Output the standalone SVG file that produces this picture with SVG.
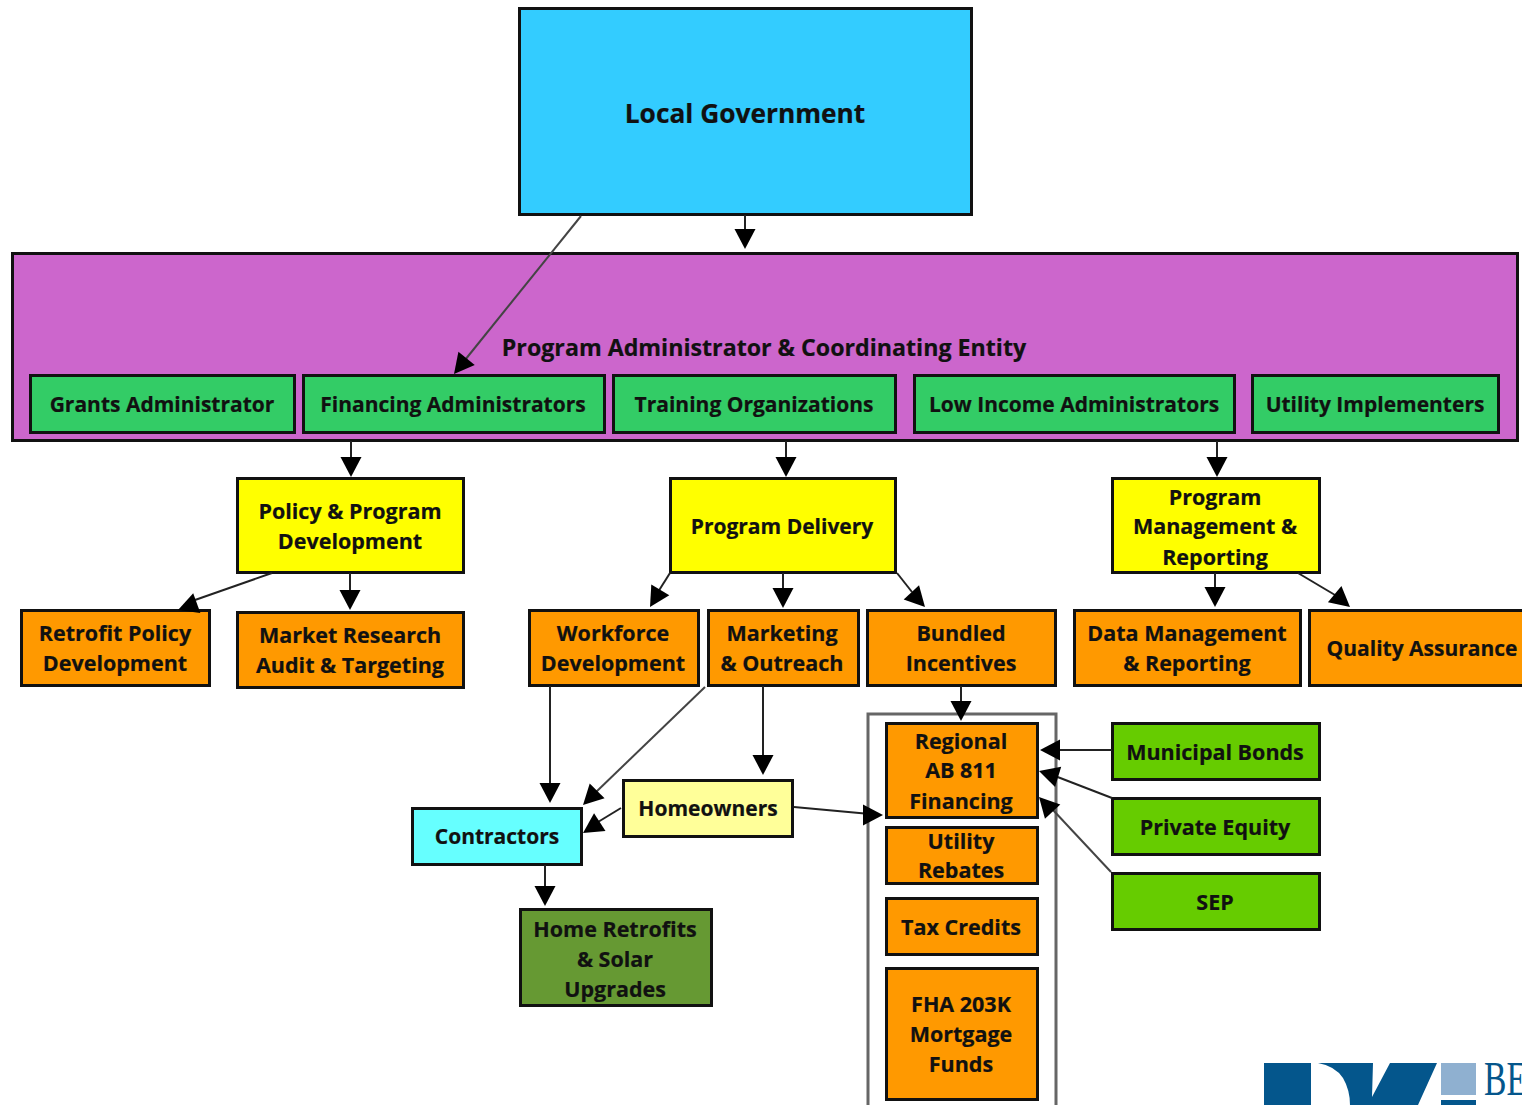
<svg xmlns="http://www.w3.org/2000/svg" width="1522" height="1105" viewBox="0 0 1522 1105">
<style>
.b{stroke:#111;stroke-width:3}
.t{font-family:"Open Sans","Noto Sans",sans-serif;font-weight:700;font-size:21.5px;fill:#111;text-anchor:middle;stroke:#111;stroke-width:.2}
.s{font-size:21px}
.o{fill:#ff9900}.g{fill:#33cc66}.y{fill:#ffff00}.l{fill:#66cc00}
.c line{stroke:#222;stroke-width:2}
.c line.d{stroke:#444}
.h{fill:#000}
</style>
<defs><polygon id="a" points="0,0 -10.500,-20 10.500,-20" class="h"/></defs>
<rect width="1522" height="1105" fill="#fff"/>
<g id="local-government"><rect class="b" x="519.500" y="8.500" width="452" height="206" fill="#33ccff"/><text class="t" x="745" y="123" style="font-size:26.300px">Local Government</text></g>
<g id="program-admin"><rect class="b" x="12.500" y="253.500" width="1505" height="187" fill="#cc66cc"/><text class="t" x="764" y="356" style="font-size:23.200px">Program Administrator &amp; Coordinating Entity</text></g>
<g id="grants"><rect class="b g" x="30.500" y="375.500" width="264" height="57"/><text class="t s" x="162" y="412">Grants Administrator</text></g>
<g id="financing"><rect class="b g" x="303.500" y="375.500" width="301" height="57"/><text class="t s" x="453" y="412">Financing Administrators</text></g>
<g id="training"><rect class="b g" x="613.500" y="375.500" width="282" height="57"/><text class="t s" x="754" y="412">Training Organizations</text></g>
<g id="low-income"><rect class="b g" x="914.500" y="375.500" width="320" height="57"/><text class="t s" x="1074" y="412">Low Income Administrators</text></g>
<g id="utility"><rect class="b g" x="1252.500" y="375.500" width="246" height="57"/><text class="t s" x="1375" y="412">Utility Implementers</text></g>
<g id="policy"><rect class="b y" x="237.500" y="478.500" width="226" height="94"/><text class="t" x="350" y="519">Policy &amp; Program</text><text class="t" x="350" y="549">Development</text></g>
<g id="delivery"><rect class="b y" x="670.500" y="478.500" width="225" height="94"/><text class="t s" x="782" y="534">Program Delivery</text></g>
<g id="mgmt"><rect class="b y" x="1112.500" y="478.500" width="207" height="94"/><text class="t" x="1215" y="505">Program</text><text class="t" x="1215" y="534">Management &amp;</text><text class="t" x="1215" y="565">Reporting</text></g>
<g id="retrofit"><rect class="b o" x="21.500" y="610.500" width="188" height="75"/><text class="t" x="115" y="641">Retrofit Policy</text><text class="t" x="115" y="671">Development</text></g>
<g id="market"><rect class="b o" x="237.500" y="612.500" width="226" height="75"/><text class="t" x="350" y="643">Market Research</text><text class="t" x="350" y="673">Audit &amp; Targeting</text></g>
<g id="workforce"><rect class="b o" x="529.500" y="610.500" width="169" height="75"/><text class="t" x="613" y="641">Workforce</text><text class="t" x="613" y="671">Development</text></g>
<g id="marketing"><rect class="b o" x="708.500" y="610.500" width="150" height="75"/><text class="t" x="782" y="641">Marketing</text><text class="t" x="782" y="671">&amp; Outreach</text></g>
<g id="bundled"><rect class="b o" x="867.500" y="610.500" width="188" height="75"/><text class="t" x="961" y="641">Bundled</text><text class="t" x="961" y="671">Incentives</text></g>
<g id="data"><rect class="b o" x="1074.500" y="610.500" width="226" height="75"/><text class="t" x="1187" y="641">Data Management</text><text class="t" x="1187" y="671">&amp; Reporting</text></g>
<g id="qa"><rect class="b o" x="1309.500" y="610.500" width="220" height="75"/><text class="t s" x="1422" y="656">Quality Assurance</text></g>
<g id="incentive-box"><path d="M868 1105V714H1056V1105" fill="none" stroke="#666" stroke-width="3"/></g>
<g id="regional"><rect class="b o" x="886.500" y="723.500" width="151" height="94"/><text class="t" x="961" y="749">Regional</text><text class="t" x="961" y="778">AB 811</text><text class="t" x="961" y="809">Financing</text></g>
<g id="rebates"><rect class="b o" x="886.500" y="827.500" width="151" height="56"/><text class="t" x="961" y="849">Utility</text><text class="t" x="961" y="878">Rebates</text></g>
<g id="tax"><rect class="b o" x="886.500" y="898.500" width="151" height="56"/><text class="t" x="961" y="935">Tax Credits</text></g>
<g id="fha"><rect class="b o" x="886.500" y="968.500" width="151" height="131"/><text class="t" x="961" y="1012">FHA 203K</text><text class="t" x="961" y="1042">Mortgage</text><text class="t" x="961" y="1072">Funds</text></g>
<g id="bonds"><rect class="b l" x="1112.500" y="723.500" width="207" height="56"/><text class="t" x="1215" y="760">Municipal Bonds</text></g>
<g id="equity"><rect class="b l" x="1112.500" y="798.500" width="207" height="56"/><text class="t" x="1215" y="835">Private Equity</text></g>
<g id="sep"><rect class="b l" x="1112.500" y="873.500" width="207" height="56"/><text class="t" x="1215" y="910">SEP</text></g>
<g id="homeowners"><rect class="b" x="623.500" y="780.500" width="169" height="56" fill="#ffff99"/><text class="t s" x="708" y="816">Homeowners</text></g>
<g id="contractors"><rect class="b" x="412.500" y="808.500" width="169" height="56" fill="#66ffff"/><text class="t s" x="497" y="844">Contractors</text></g>
<g id="retrofits"><rect class="b" x="520.500" y="909.500" width="191" height="96" fill="#669933"/><text class="t" x="615" y="937">Home Retrofits</text><text class="t" x="615" y="967">&amp; Solar</text><text class="t" x="615" y="997">Upgrades</text></g>
<g id="connectors" class="c">
<line x1="745" y1="215" x2="745" y2="235"/><use href="#a" x="745" y="249"/>
<line class="d" x1="581" y1="216" x2="465" y2="360"/><use href="#a" transform="translate(454,374) rotate(39)"/>
<line x1="351" y1="441" x2="351" y2="465"/><use href="#a" x="351" y="477"/>
<line x1="786" y1="441" x2="786" y2="465"/><use href="#a" x="786" y="477"/>
<line x1="1217" y1="441" x2="1217" y2="465"/><use href="#a" x="1217" y="477"/>
<line x1="272" y1="573" x2="195" y2="600"/><use href="#a" transform="translate(178,610) rotate(70)"/>
<line x1="350" y1="573" x2="350" y2="595"/><use href="#a" x="350" y="610"/>
<line x1="670" y1="573" x2="658" y2="592"/><use href="#a" transform="translate(650,607) rotate(31)"/>
<line x1="783" y1="573" x2="783" y2="595"/><use href="#a" x="783" y="608"/>
<line x1="897" y1="573" x2="912" y2="592"/><use href="#a" transform="translate(925,607) rotate(-43)"/>
<line x1="1215" y1="573" x2="1215" y2="595"/><use href="#a" x="1215" y="607"/>
<line x1="1298" y1="573" x2="1335" y2="595"/><use href="#a" transform="translate(1350,607) rotate(-50)"/>
<line x1="961" y1="686" x2="961" y2="705"/><use href="#a" x="961" y="721"/>
<line x1="550" y1="686" x2="550" y2="790"/><use href="#a" x="550" y="803"/>
<line class="d" x1="705" y1="687" x2="595" y2="793"/><use href="#a" transform="translate(583,805) rotate(45)"/>
<line x1="763" y1="686" x2="763" y2="762"/><use href="#a" x="763" y="775"/>
<line x1="621" y1="808" x2="598" y2="822"/><use href="#a" transform="translate(583,833) rotate(57)"/>
<line x1="545" y1="865" x2="545" y2="892"/><use href="#a" x="545" y="906"/>
<line x1="794" y1="807" x2="870" y2="814"/><use href="#a" transform="translate(883,815) rotate(-90)"/>
<line x1="1112" y1="750" x2="1055" y2="750"/><use href="#a" transform="translate(1040,750) rotate(90)"/>
<line x1="1112" y1="798" x2="1055" y2="776"/><use href="#a" transform="translate(1039,771) rotate(107)"/>
<line class="d" x1="1111" y1="872" x2="1053" y2="810"/><use href="#a" transform="translate(1039,797) rotate(137)"/>
</g>
<g id="logo">
<path d="M1264 1063H1311V1105H1264Z" fill="#04568c"/>
<path d="M1318 1063H1373L1372 1097L1390 1063H1437L1418 1105H1350Q1350 1090 1343 1078Q1335 1066 1318 1063Z" fill="#04568c"/>
<rect x="1441" y="1063" width="35" height="32" fill="#8fb0d0"/>
<rect x="1441" y="1100" width="35" height="5" fill="#04568c"/>
<text transform="translate(1484,1095) scale(.7,1)" font-family="Liberation Serif,serif" font-size="48" fill="#04568c">BE</text>
</g>
</svg>
